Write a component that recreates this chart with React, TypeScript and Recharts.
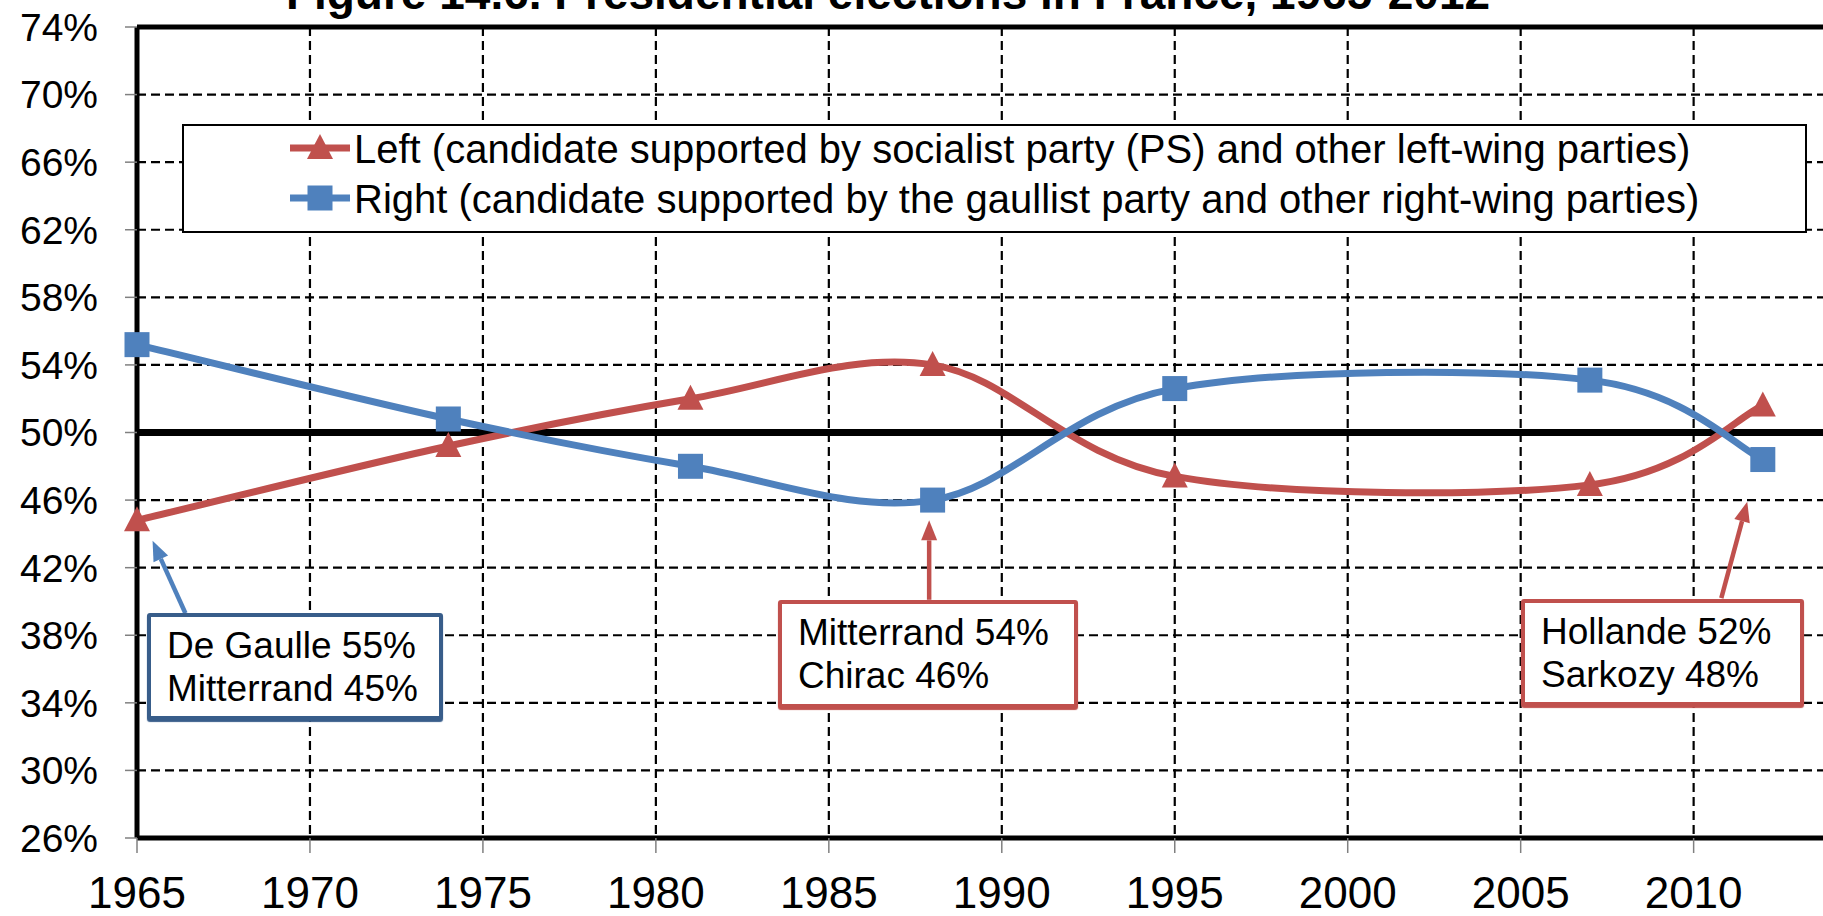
import React from 'react';
import { LineChart, Line, XAxis, YAxis, CartesianGrid, ReferenceLine, Legend } from 'recharts';

// election years and second-round shares (%)
const years = [1965, 1974, 1981, 1988, 1995, 2007, 2012];
const leftShares = [44.8, 49.2, 52.0, 54.0, 47.4, 46.9, 51.6];
const rightShares = [55.2, 50.8, 48.0, 46.0, 52.6, 53.1, 48.4];

const xTicks = [1965, 1970, 1975, 1980, 1985, 1990, 1995, 2000, 2005, 2010];
const yTicks = [26, 30, 34, 38, 42, 46, 50, 54, 58, 62, 66, 70, 74];

const title = 'Figure 14.6. Presidential elections in France, 1965-2012';
const leftName = 'Left (candidate supported by socialist party (PS) and other left-wing parties)';
const rightName = 'Right (candidate supported by the gaullist party and other right-wing parties)';

const RED = '#C0504D';
const BLUE = '#4F81BD';
const FONT = 'Arial, "Liberation Sans", sans-serif';

const data = years.map((year, i) => ({ year, left: leftShares[i], right: rightShares[i] }));

// callouts: arrow in data units, box in pixels
const callouts = [
  {
    lines: ['De Gaulle 55%', 'Mitterrand 45%'],
    arrow: BLUE,
    border: '#385D8A',
    from: { x: 1966.4, y: 39.3 },
    to: { x: 1965.45, y: 43.6 },
    box: { left: 147, top: 613, width: 296, height: 107 },
  },
  {
    lines: ['Mitterrand 54%', 'Chirac 46%'],
    arrow: RED,
    border: RED,
    from: { x: 1987.9, y: 40.1 },
    to: { x: 1987.9, y: 44.8 },
    box: { left: 778, top: 600, width: 300, height: 108 },
  },
  {
    lines: ['Hollande 52%', 'Sarkozy 48%'],
    arrow: RED,
    border: RED,
    from: { x: 2010.8, y: 40.2 },
    to: { x: 2011.55, y: 45.9 },
    box: { left: 1521, top: 599, width: 283, height: 107 },
  },
];

// Excel-like smoothed line (Catmull-Rom through the points)
const smoothCurve = (context: any) => {
  let pts: number[][] = [];
  return {
    areaStart() {},
    areaEnd() {},
    lineStart() {
      pts = [];
    },
    point(x: number, y: number) {
      pts.push([+x, +y]);
    },
    lineEnd() {
      if (!pts.length) return;
      context.moveTo(pts[0][0], pts[0][1]);
      for (let i = 0; i < pts.length - 1; i++) {
        const p0 = pts[i - 1] || pts[i];
        const p1 = pts[i];
        const p2 = pts[i + 1];
        const p3 = pts[i + 2] || p2;
        const k = 1 / 6;
        context.bezierCurveTo(
          p1[0] + (p2[0] - p0[0]) * k,
          p1[1] + (p2[1] - p0[1]) * k,
          p2[0] - (p3[0] - p1[0]) * k,
          p2[1] - (p3[1] - p1[1]) * k,
          p2[0],
          p2[1]
        );
      }
    },
  };
};

const Triangle = ({ cx, cy, color }: any) => (
  <path d={`M${cx},${cy - 14}L${cx + 13},${cy + 11}L${cx - 13},${cy + 11}Z`} fill={color} />
);
const Square = ({ cx, cy, color }: any) => (
  <rect x={cx - 12.5} y={cy - 12.5} width={25} height={25} fill={color} />
);

const arrowShape = (color: string) => (props: any) => {
  const { x1, y1, x2, y2 } = props;
  const ang = Math.atan2(y2 - y1, x2 - x1);
  const len = 20;
  const half = 8;
  const bx = x2 - len * Math.cos(ang);
  const by = y2 - len * Math.sin(ang);
  const px = -Math.sin(ang) * half;
  const py = Math.cos(ang) * half;
  return (
    <g>
      <line x1={x1} y1={y1} x2={bx} y2={by} stroke={color} strokeWidth={4.5} />
      <polygon points={`${x2},${y2} ${bx + px},${by + py} ${bx - px},${by - py}`} fill={color} />
    </g>
  );
};

const renderLegend = (props: any) => (
  <div style={{ marginTop: -2 }}>
    {(props.payload || []).map((entry: any) => (
      <div
        key={entry.value}
        style={{ display: 'flex', alignItems: 'center', height: 50, fontSize: 40, lineHeight: '50px', color: '#000' }}
      >
        <svg width={64} height={50} style={{ marginLeft: 104, marginRight: 2 }}>
          <line x1={2} y1={24} x2={62} y2={24} stroke={entry.color} strokeWidth={7} />
          {entry.dataKey === 'left' ? (
            <Triangle cx={32} cy={24} color={entry.color} />
          ) : (
            <Square cx={32} cy={24} color={entry.color} />
          )}
        </svg>
        <span>{entry.value}</span>
      </div>
    ))}
  </div>
);

export default function App() {
  return (
    <div
      style={{
        position: 'absolute',
        left: 0,
        top: 0,
        width: 1823,
        height: 916,
        overflow: 'hidden',
        background: '#fff',
        fontFamily: FONT,
      }}
    >
      <div
        style={{
          position: 'absolute',
          left: 0,
          top: -30,
          width: 1776,
          textAlign: 'center',
          fontSize: 46,
          fontWeight: 'bold',
          lineHeight: '46px',
          whiteSpace: 'nowrap',
        }}
      >
        {title}
      </div>
      <LineChart width={1840} height={916} data={data} margin={{ top: 27, right: 8, bottom: 0, left: 0 }}>
        <CartesianGrid stroke="#000" strokeDasharray="9 5" strokeWidth={2.2} />
        <XAxis
          type="number"
          dataKey="year"
          domain={[1965, 2014]}
          ticks={xTicks}
          interval={0}
          height={78}
          tickSize={15}
          tickMargin={24}
          axisLine={{ stroke: '#000', strokeWidth: 5 }}
          tickLine={{ stroke: '#808080', strokeWidth: 1.5 }}
          tick={{ fontSize: 44, fill: '#000', fontFamily: FONT }}
        />
        <YAxis
          type="number"
          domain={[26, 74]}
          ticks={yTicks}
          interval={0}
          width={137}
          tickSize={12}
          tickMargin={27}
          tickFormatter={(v) => `${v}%`}
          axisLine={{ stroke: '#000', strokeWidth: 5 }}
          tickLine={{ stroke: '#808080', strokeWidth: 1.5 }}
          tick={{ fontSize: 39, fill: '#000', fontFamily: FONT }}
        />
        <ReferenceLine y={74} stroke="#000" strokeWidth={5} />
        <ReferenceLine y={50} stroke="#000" strokeWidth={7} />
        <Legend
          layout="horizontal"
          verticalAlign="middle"
          align="center"
          width={1625}
          height={109}
          content={renderLegend}
          wrapperStyle={{
            left: 182,
            top: 124,
            width: 1625,
            height: 109,
            border: '2px solid #000',
            background: '#fff',
            boxSizing: 'border-box',
            fontFamily: FONT,
          }}
        />
        <Line
          type={smoothCurve as any}
          dataKey="left"
          name={leftName}
          stroke={RED}
          strokeWidth={7}
          isAnimationActive={false}
          dot={(p: any) => <Triangle key={`l${p.index}`} cx={p.cx} cy={p.cy} color={RED} />}
          activeDot={false}
        />
        <Line
          type={smoothCurve as any}
          dataKey="right"
          name={rightName}
          stroke={BLUE}
          strokeWidth={7}
          isAnimationActive={false}
          dot={(p: any) => <Square key={`r${p.index}`} cx={p.cx} cy={p.cy} color={BLUE} />}
          activeDot={false}
        />
        {callouts.map((c, i) => (
          <ReferenceLine key={`a${i}`} segment={[c.from, c.to]} shape={arrowShape(c.arrow)} />
        ))}
      </LineChart>
      {callouts.map((c, i) => (
        <div
          key={`b${i}`}
          style={{
            position: 'absolute',
            left: c.box.left,
            top: c.box.top,
            width: c.box.width,
            height: c.box.height,
            boxSizing: 'border-box',
            border: `4px solid ${c.border}`,
            borderRadius: 3,
            background: '#fff',
            padding: '7px 0 0 16px',
            fontSize: 37,
            lineHeight: '43px',
            color: '#000',
            boxShadow: `0 2px 1px ${c.border}`,
          }}
        >
          {c.lines.map((t) => (
            <div key={t}>{t}</div>
          ))}
        </div>
      ))}
    </div>
  );
}
